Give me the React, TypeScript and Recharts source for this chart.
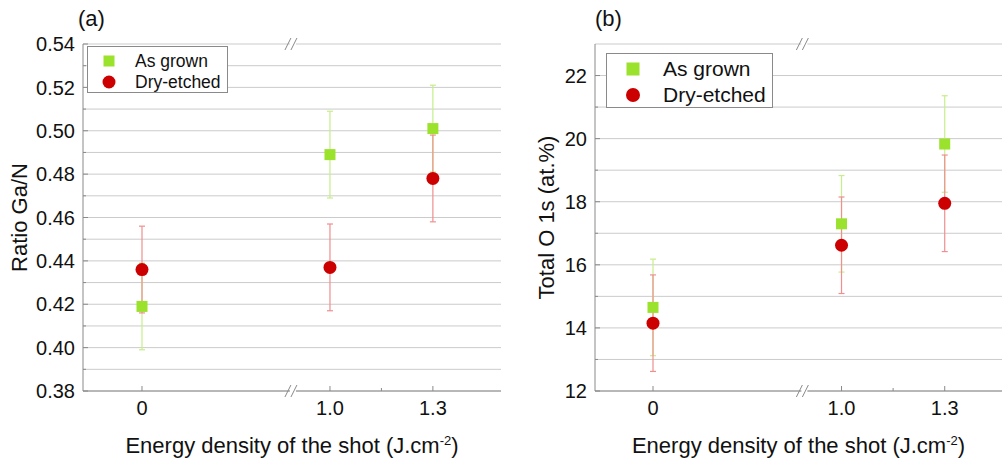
import React from 'react'
import { ScatterChart, Scatter, XAxis, YAxis, CartesianGrid, ErrorBar, ReferenceDot, Label } from 'recharts'

const ENERGIES = [0, 1.0, 1.3]
const ENERGY_LABELS = ['0', '1.0', '1.3']
const MINOR_ENERGIES = [1.15]

// (a) Ga/N ratio
const RATIO_AS_GROWN = [0.419, 0.489, 0.501]
const RATIO_AS_GROWN_ERR = [0.02, 0.02, 0.02]
const RATIO_DRY = [0.436, 0.437, 0.478]
const RATIO_DRY_ERR = [0.02, 0.02, 0.02]
const RATIO_TICKS = [0.38, 0.39, 0.4, 0.41, 0.42, 0.43, 0.44, 0.45, 0.46, 0.47, 0.48, 0.49, 0.5, 0.51, 0.52, 0.53, 0.54]

// (b) total O 1s
const O1S_AS_GROWN = [14.65, 17.3, 19.83]
const O1S_AS_GROWN_ERR = [1.53, 1.53, 1.53]
const O1S_DRY = [14.15, 16.62, 17.95]
const O1S_DRY_ERR = [1.53, 1.53, 1.53]
const O1S_TICKS = [12, 13, 14, 15, 16, 17, 18, 19, 20, 21, 22]

const FONT = '"Liberation Sans", Arial, sans-serif'
const GREEN = '#9be22d'
const GREEN_ERR = '#c6ee8a'
const RED = '#cc0000'
const RED_ERR = '#ef8f8f'
const AXIS = '#8a8a8a'
const GRID = '#cbcbcb'
const TICK_FONT = 20
const TITLE_FONT = 22

// broken x axis: everything after the break is pulled left by GAP
const GAP = 0.452
const BREAK_POS = 0.44
const pos = (e: number) => (e > 0.5 ? e - GAP : e)
const X_TICKS = [...ENERGIES, ...MINOR_ENERGIES].map(pos)

const rows = (vals: number[], errs: number[]) =>
  ENERGIES.map((e, i) => ({ x: pos(e), y: vals[i], err: errs[i] }))

function BottomTick(props: any) {
  const { x, y, payload } = props
  const idx = ENERGIES.findIndex((e) => Math.abs(pos(e) - payload.value) < 1e-6)
  const len = idx >= 0 ? 5 : 3
  return (
    <g>
      <line x1={x} x2={x} y1={y} y2={y - len} stroke={AXIS} />
      {idx >= 0 && (
        <text x={x} y={y + 24} textAnchor="middle" fontSize={TICK_FONT} fontFamily={FONT} fill="#111">
          {ENERGY_LABELS[idx]}
        </text>
      )}
    </g>
  )
}

function TopTick(props: any) {
  const { x, y, payload } = props
  const major = ENERGIES.some((e) => Math.abs(pos(e) - payload.value) < 1e-6)
  return <line x1={x} x2={x} y1={y} y2={y + (major ? 5 : 3)} stroke={AXIS} />
}

function Square(props: any) {
  const { cx, cy } = props
  return <rect x={cx - 5.5} y={cy - 5.5} width={11} height={11} fill={GREEN} />
}

function Dot(props: any) {
  const { cx, cy } = props
  return <circle cx={cx} cy={cy} r={6.5} fill={RED} />
}

function BreakMark(props: any) {
  const { cx, cy } = props
  return (
    <g>
      <rect x={cx - 3} y={cy - 2} width={6} height={4} fill="#fff" />
      <line x1={cx - 8} y1={cy + 6} x2={cx - 2} y2={cy - 6} stroke={AXIS} />
      <line x1={cx - 2} y1={cy + 6} x2={cx + 4} y2={cy - 6} stroke={AXIS} />
    </g>
  )
}

function Legend({ left, top, width, height, font, markerX, textX, rowA, rowB, sq, r }: any) {
  const item = (cy: number, marker: React.ReactNode, text: string) => (
    <div style={{ position: 'absolute', left: 0, top: cy - 14, height: 28, width: '100%' }}>
      <svg width={30} height={28} style={{ position: 'absolute', left: markerX - 15, top: 0 }}>
        {marker}
      </svg>
      <span style={{ position: 'absolute', left: textX, top: 0, lineHeight: '28px', fontSize: font, whiteSpace: 'nowrap' }}>
        {text}
      </span>
    </div>
  )
  return (
    <div
      style={{
        position: 'absolute', left, top, width, height, boxSizing: 'border-box',
        border: `1px solid ${AXIS}`, background: '#fff', fontFamily: FONT, color: '#111',
      }}
    >
      {item(rowA, <rect x={15 - sq / 2} y={14 - sq / 2} width={sq} height={sq} fill={GREEN} />, 'As grown')}
      {item(rowB, <circle cx={15} cy={14} r={r} fill={RED} />, 'Dry-etched')}
    </div>
  )
}

function Panel(props: any) {
  const {
    left, width, yAxisWidth, xDomain, yDomain, yTicks, isMajor, fmt, yTitle, yTitleX,
    letter, grown, grownErr, dry, dryErr, legend,
  } = props

  const LeftTick = (p: any) => {
    const major = isMajor(p.payload.value)
    return (
      <g>
        <line x1={p.x} x2={p.x + (major ? 5 : 3)} y1={p.y} y2={p.y} stroke={AXIS} />
        {major && (
          <text x={p.x - 8} y={p.y} dy="0.36em" textAnchor="end" fontSize={TICK_FONT} fontFamily={FONT} fill="#111">
            {fmt(p.payload.value)}
          </text>
        )}
      </g>
    )
  }
  const RightTick = (p: any) => {
    const major = isMajor(p.payload.value)
    return <line x1={p.x} x2={p.x - (major ? 5 : 3)} y1={p.y} y2={p.y} stroke={AXIS} />
  }

  return (
    <div style={{ position: 'absolute', left, top: 0, width, height: 460 }}>
      <ScatterChart width={width} height={460} margin={{ top: 44, right: 1, bottom: 0, left: 0 }}>
        <CartesianGrid vertical={false} stroke={GRID} />
        <XAxis
          type="number"
          dataKey="x"
          domain={xDomain}
          ticks={X_TICKS}
          interval={0}
          height={69}
          tickSize={0}
          tickMargin={0}
          axisLine={{ stroke: AXIS }}
          tickLine={false}
          tick={(p: any) => <BottomTick {...p} />}
        >
          <Label
            content={(p: any) => (
              <text
                x={p.viewBox.x + p.viewBox.width / 2}
                y={p.viewBox.y + 62}
                textAnchor="middle"
                fontSize={TITLE_FONT}
                fontFamily={FONT}
                fill="#111"
              >
                Energy density of the shot (J.cm
                <tspan dy={-8} fontSize={13}>-2</tspan>
                <tspan dy={8}>)</tspan>
              </text>
            )}
          />
        </XAxis>
        <XAxis
          xAxisId="top"
          orientation="top"
          type="number"
          dataKey="x"
          domain={xDomain}
          ticks={X_TICKS}
          interval={0}
          height={0}
          tickSize={0}
          tickMargin={0}
          axisLine={{ stroke: AXIS }}
          tickLine={false}
          tick={(p: any) => <TopTick {...p} />}
        />
        <YAxis
          type="number"
          dataKey="y"
          domain={yDomain}
          ticks={yTicks}
          interval={0}
          width={yAxisWidth}
          tickSize={0}
          tickMargin={0}
          axisLine={{ stroke: AXIS }}
          tickLine={false}
          tick={(p: any) => <LeftTick {...p} />}
        >
          <Label
            content={(p: any) => {
              const cx = p.viewBox.x + yTitleX
              const cy = p.viewBox.y + p.viewBox.height / 2
              return (
                <text
                  x={cx}
                  y={cy}
                  transform={`rotate(-90, ${cx}, ${cy})`}
                  textAnchor="middle"
                  fontSize={TITLE_FONT}
                  fontFamily={FONT}
                  fill="#111"
                >
                  {yTitle}
                </text>
              )
            }}
          />
        </YAxis>
        <YAxis
          yAxisId="right"
          orientation="right"
          type="number"
          domain={yDomain}
          ticks={yTicks}
          interval={0}
          width={0}
          tickSize={0}
          tickMargin={0}
          axisLine={{ stroke: AXIS }}
          tickLine={false}
          tick={(p: any) => <RightTick {...p} />}
        />
        <Scatter data={rows(grown, grownErr)} shape={Square} isAnimationActive={false}>
          <ErrorBar dataKey="err" direction="y" width={3} stroke={GREEN_ERR} strokeWidth={1.2} isAnimationActive={false} />
        </Scatter>
        <Scatter data={rows(dry, dryErr)} shape={Dot} isAnimationActive={false}>
          <ErrorBar dataKey="err" direction="y" width={3} stroke={RED_ERR} strokeWidth={1.2} isAnimationActive={false} />
        </Scatter>
        <ReferenceDot x={BREAK_POS} y={yDomain[0]} ifOverflow="visible" shape={BreakMark} />
        <ReferenceDot x={BREAK_POS} y={yDomain[1]} ifOverflow="visible" shape={BreakMark} />
      </ScatterChart>
      <div
        style={{
          position: 'absolute', left: letter.x, top: 4, fontSize: 22, fontFamily: FONT, color: '#111', lineHeight: '30px',
        }}
      >
        {letter.text}
      </div>
      <Legend {...legend} />
    </div>
  )
}

export default function App() {
  return (
    <div style={{ position: 'absolute', left: 0, top: 0, width: 1003, height: 460, background: '#fff', overflow: 'hidden' }}>
      <Panel
        left={0}
        width={502}
        yAxisWidth={83}
        xDomain={[-0.172, 1.0466]}
        yDomain={[0.38, 0.54]}
        yTicks={RATIO_TICKS}
        isMajor={(v: number) => Math.round(v * 100) % 2 === 0}
        fmt={(v: number) => v.toFixed(2)}
        yTitle="Ratio Ga/N"
        yTitleX={27}
        letter={{ text: '(a)', x: 78 }}
        grown={RATIO_AS_GROWN}
        grownErr={RATIO_AS_GROWN_ERR}
        dry={RATIO_DRY}
        dryErr={RATIO_DRY_ERR}
        legend={{ left: 87, top: 46, width: 141, height: 47, font: 17.5, markerX: 21, textX: 47, rowA: 14, rowB: 35, sq: 11, r: 6.5 }}
      />
      <Panel
        left={510}
        width={493}
        yAxisWidth={85}
        xDomain={[-0.1686, 1.0145]}
        yDomain={[12, 23]}
        yTicks={O1S_TICKS}
        isMajor={(v: number) => v % 2 === 0}
        fmt={(v: number) => String(v)}
        yTitle="Total O 1s (at.%)"
        yTitleX={44}
        letter={{ text: '(b)', x: 85 }}
        grown={O1S_AS_GROWN}
        grownErr={O1S_AS_GROWN_ERR}
        dry={O1S_DRY}
        dryErr={O1S_DRY_ERR}
        legend={{ left: 96, top: 53, width: 167, height: 55, font: 21, markerX: 26, textX: 56, rowA: 15, rowB: 41, sq: 13, r: 7 }}
      />
    </div>
  )
}
